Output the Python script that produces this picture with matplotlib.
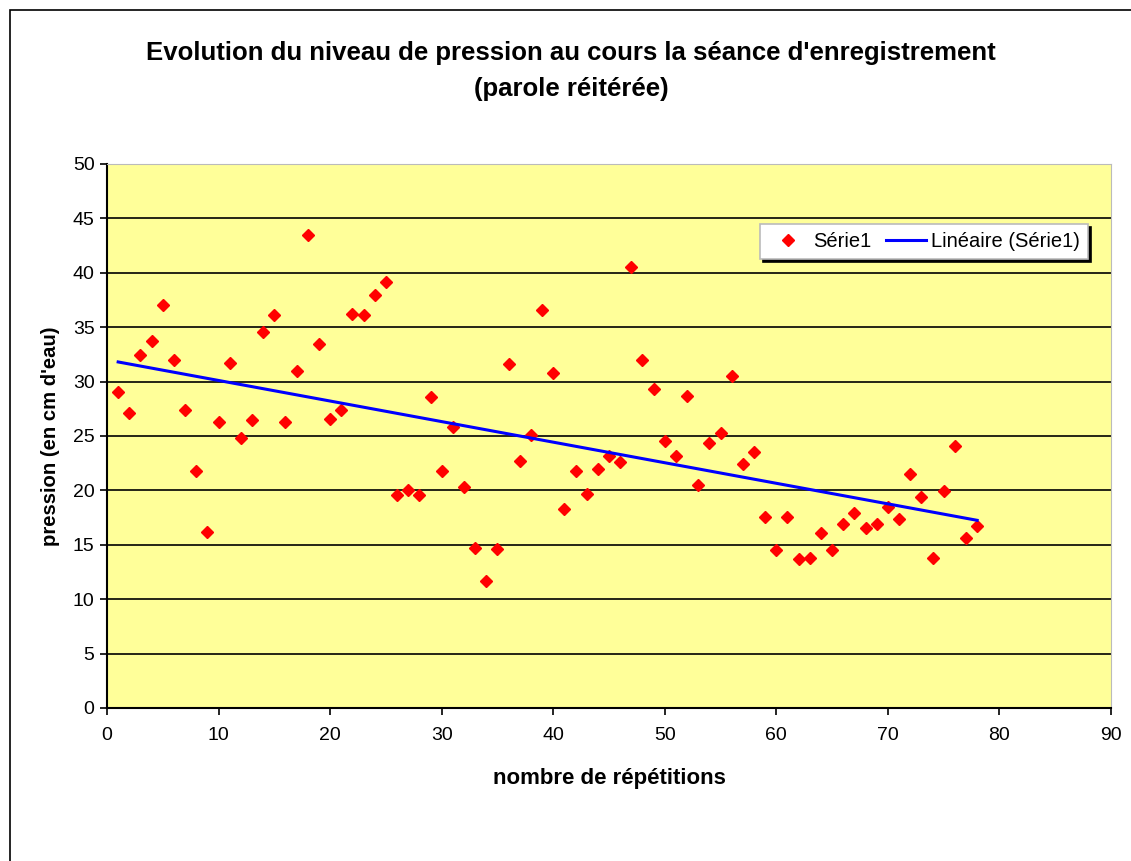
import numpy as np
import matplotlib
matplotlib.use('Agg')
import matplotlib.pyplot as plt
from matplotlib.patches import Rectangle

plt.rcParams['font.family'] = ['Liberation Sans', 'DejaVu Sans']

# nombre de répétitions / pression (cm d'eau)
repetitions = np.arange(1, 79)
pression = [29.0, 27.1, 32.4, 33.7, 37.0, 32.0, 27.4, 21.8, 16.2, 26.3,
            31.7, 24.8, 26.5, 34.6, 36.1, 26.3, 31.0, 43.5, 33.5, 26.6,
            27.4, 36.2, 36.1, 38.0, 39.2, 19.6, 20.0, 19.6, 28.6, 21.8,
            25.8, 20.3, 14.7, 11.7, 14.6, 31.6, 22.7, 25.1, 36.6, 30.8,
            18.3, 21.8, 19.7, 22.0, 23.2, 22.6, 40.5, 32.0, 29.3, 24.5,
            23.2, 28.7, 20.5, 24.4, 25.3, 30.5, 22.4, 23.5, 17.6, 14.5,
            17.6, 13.7, 13.8, 16.1, 14.5, 16.9, 17.9, 16.5, 16.9, 18.5,
            17.4, 21.5, 19.4, 13.8, 19.9, 24.1, 15.6, 16.7]

# droite de tendance linéaire
pente, origine = np.polyfit(repetitions, pression, 1)
tendance = pente * repetitions + origine

fig = plt.figure(figsize=(11.31, 8.61), dpi=100)
fig.patches.append(Rectangle((10 / 1131, -0.01), 1.2, 1 - 10 / 861 + 0.01,
                             transform=fig.transFigure, fill=False,
                             edgecolor='black', linewidth=1.2))
ax = fig.add_axes([107 / 1131, 1 - 708 / 861, 1004 / 1131, 544 / 861])
ax.set_facecolor('#FFFF99')

ax.plot(repetitions, pression, linestyle='none', marker='D', markersize=6,
        color='#FF0000', label='Série1', zorder=3)
ax.plot(repetitions, tendance, color='#0000FF', linewidth=2.2,
        label='Linéaire (Série1)', zorder=4)

ax.set_xlim(0, 90)
ax.set_ylim(0, 50)
ax.set_xticks(range(0, 91, 10))
ax.set_yticks(range(0, 51, 5))
ax.yaxis.grid(True, color='black', linewidth=1.2)
ax.set_axisbelow(True)
ax.tick_params(axis='both', labelsize=14, direction='out', length=5,
               width=1.2, color='black')
ax.tick_params(axis='x', pad=9)
ax.tick_params(axis='y', pad=4)
for side in ['top', 'right']:
    ax.spines[side].set_color('#BBBBBB')
for side in ['left', 'bottom']:
    ax.spines[side].set_linewidth(1.5)

ax.set_xlabel('nombre de répétitions', fontsize=16, fontweight='bold', labelpad=17)
ax.set_ylabel("pression (en cm d'eau)", fontsize=14.6, fontweight='bold', labelpad=9)

fig.text(0.505, 1 - 71 / 861, "Evolution du niveau de pression au cours la séance d'enregistrement\n(parole réitérée)",
         ha='center', va='center', fontsize=18.5, fontweight='bold', linespacing=1.6)

leg = ax.legend(loc='upper right', bbox_to_anchor=(0.977, 0.89), ncol=2,
                fontsize=14.5, frameon=True, fancybox=False,
                shadow={'color': 'black', 'alpha': 1},
                borderaxespad=0, borderpad=0.4, handlelength=2.0,
                columnspacing=0.7, handletextpad=0.25)
leg.get_frame().set_edgecolor('#BBBBBB')
leg.get_frame().set_linewidth(1.2)

fig.savefig('out.png', dpi=100)
